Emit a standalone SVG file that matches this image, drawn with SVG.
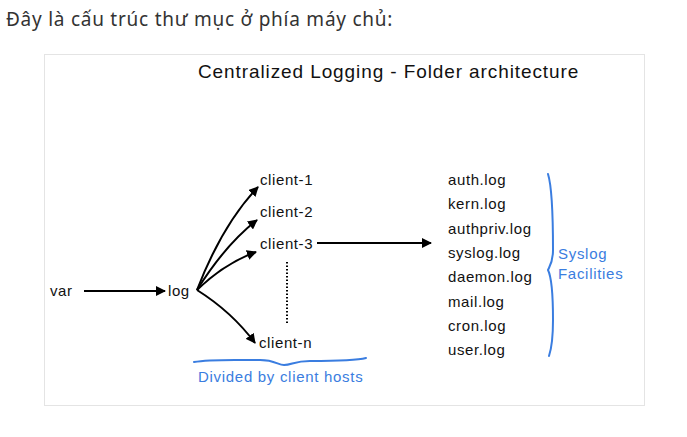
<svg xmlns="http://www.w3.org/2000/svg" width="687" height="437" viewBox="0 0 687 437">
<style>
.hd{font-family:"Noto Sans","Open Sans",sans-serif;font-size:19px;letter-spacing:0.75px;fill:#333}
.t{font-family:"Liberation Sans",Arial,sans-serif;font-size:15px;letter-spacing:0.6px;fill:#111}
.ti{font-family:"Liberation Sans",Arial,sans-serif;font-size:19px;letter-spacing:0.9px;fill:#111}
.b{font-family:"Liberation Sans",Arial,sans-serif;font-size:15px;letter-spacing:0.7px;fill:#3a7de0}
.ln{fill:none;stroke:#000;stroke-width:2}
.bl{fill:none;stroke:#3a7de0;stroke-width:2;stroke-linecap:round}
</style>
<defs>
<marker id="ah" viewBox="0 0 10 10" refX="9" refY="5" markerWidth="5" markerHeight="5" orient="auto" markerUnits="strokeWidth">
<path d="M0,0 L10,5 L0,10 z" fill="#000"/>
</marker>
</defs>
<rect width="687" height="437" fill="#fff"/>
<text class="hd" x="6" y="26">Đây là cấu trúc thư mục ở phía máy chủ:</text>
<rect x="44.5" y="54.5" width="600" height="351" fill="#fff" stroke="#e4e4e4" stroke-width="1"/>
<text class="ti" x="198" y="78">Centralized Logging - Folder architecture</text>
<g id="connectors">
<path class="ln" d="M84,291 L165,291" marker-end="url(#ah)"/>
<path class="ln" d="M197,290 Q222,225 258,187" marker-end="url(#ah)"/>
<path class="ln" d="M197,290 Q225,245 257,220" marker-end="url(#ah)"/>
<path class="ln" d="M197,290 Q225,263 256,252" marker-end="url(#ah)"/>
<path class="ln" d="M197,290 Q232,312 255,343" marker-end="url(#ah)"/>
<path class="ln" d="M317,243 L431,243" marker-end="url(#ah)"/>
<path d="M287,262 L287,324" fill="none" stroke="#000" stroke-width="2" stroke-dasharray="1.5,2"/>
</g>
<g id="var"><text class="t" x="50" y="296">var</text></g>
<g id="log"><text class="t" x="168" y="296">log</text></g>
<g id="client-1"><text class="t" x="260" y="185">client-1</text></g>
<g id="client-2"><text class="t" x="260" y="217">client-2</text></g>
<g id="client-3"><text class="t" x="260" y="249">client-3</text></g>
<g id="client-n"><text class="t" x="259" y="348">client-n</text></g>
<g id="files">
<text class="t" x="448" y="185">auth.log</text>
<text class="t" x="448" y="209">kern.log</text>
<text class="t" x="448" y="234">authpriv.log</text>
<text class="t" x="448" y="258">syslog.log</text>
<text class="t" x="448" y="282">daemon.log</text>
<text class="t" x="448" y="307">mail.log</text>
<text class="t" x="448" y="331">cron.log</text>
<text class="t" x="448" y="355">user.log</text>
</g>
<g id="syslog-facilities">
<path class="bl" d="M548,174 C553,190 553,230 553,250 C553,262 550,266 548,270 C551,276 553,290 553,320 C553,340 551,350 549,356"/>
<text class="b" x="558" y="259">Syslog</text>
<text class="b" x="558" y="279">Facilities</text>
</g>
<g id="client-hosts">
<path class="bl" d="M194,362 C210,359 230,360 260,360 C275,360 278,365 284,365 C292,365 294,361 310,361 C335,361 355,361 366,358"/>
<text class="b" x="198" y="382">Divided by client hosts</text>
</g>
</svg>
